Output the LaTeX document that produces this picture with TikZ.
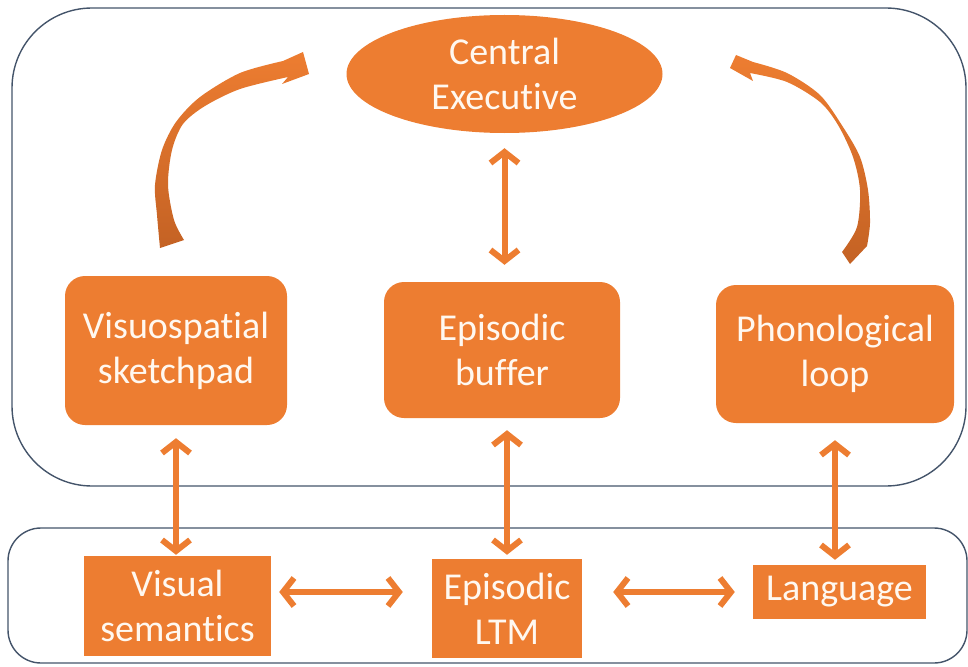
\documentclass[tikz,border=0pt]{standalone}
\usepackage{fontspec}
\setmainfont[Ligatures=NoCommon]{Carlito}
\definecolor{memorange}{RGB}{237,125,49}
\definecolor{memdark}{RGB}{196,98,36}
\definecolor{framegray}{RGB}{68,84,106}
\definecolor{labelwhite}{RGB}{255,248,240}
\usetikzlibrary{arrows.meta, shapes.geometric}
\tikzset{
  execnode/.style={ellipse, fill=memorange, text=labelwhite, align=center, inner sep=0pt, font=\fontsize{38}{45}\selectfont},
  slavebox/.style={rectangle, rounded corners=20pt, fill=memorange, text=labelwhite, align=center, inner sep=0pt, font=\fontsize{38}{45}\selectfont},
  ltmbox/.style={rectangle, fill=memorange, text=labelwhite, align=center, inner sep=0pt, font=\fontsize{38}{45}\selectfont},
  linkarrow/.style={draw=memorange, line width=6pt, >={Straight Barb[length=11pt,width=28pt]}, <->},
  framebox/.style={draw=framegray, line width=1.4pt, rounded corners=#1},
  curvearrow/.style={shade, top color=memorange, bottom color=memdark, draw=none},
}
\begin{document}
\begin{tikzpicture}[x=1pt, y=-1pt]
\useasboundingbox (0,0) rectangle (968,666);
% frames
\draw[framebox=80pt] (12,8) rectangle (966,486);
\draw[framebox=33pt] (8,528) rectangle (967,663);

% components
\node[execnode, minimum width=316pt, minimum height=118pt] (exec) at (504.5,74) {Central\\Executive};
\node[slavebox, minimum width=222pt, minimum height=149pt] (sketch) at (176,350.5) {Visuospatial\\sketchpad};
\node[slavebox, minimum width=236pt, minimum height=136pt] (buffer) at (502,350) {Episodic\\buffer};
\node[slavebox, minimum width=238pt, minimum height=138pt] (loop) at (835,354) {Phonological\\loop};
\node[ltmbox, minimum width=187pt, minimum height=100pt] (vsem) at (177.5,606) {Visual\\semantics};
\node[ltmbox, minimum width=150pt, minimum height=99pt] (ltm) at (507,608.5) {Episodic\\LTM};
\node[ltmbox, minimum width=173pt, minimum height=54pt] (lang) at (839.5,592) {Language};

% links
\draw[linkarrow, shorten <=15pt, shorten >=17pt] (exec.south) -- (exec.south |- buffer.north);
\draw[linkarrow, shorten <=13pt, shorten >=1pt] (sketch.south) -- (sketch.south |- vsem.north);
\draw[linkarrow, shorten <=12pt, shorten >=4pt] (ltm.north |- buffer.south) -- (ltm.north);
\draw[linkarrow, shorten <=17pt, shorten >=5pt] (loop.south) -- (loop.south |- lang.north);
\draw[linkarrow, shorten <=8pt, shorten >=29pt] (vsem.east |- lang.west) -- (ltm.west |- lang.west);
\draw[linkarrow, shorten <=31pt, shorten >=18pt] (ltm.east |- lang.west) -- (lang.west);

% curved arrows to the executive
\path[curvearrow] plot[smooth] coordinates {(160,248) (157,215) (155,185) (162,150) (176,122) (200,97) (240,73) (283,61)}
  -- (303,52) -- (309,74) -- (282,84) -- (288,77)
  -- plot[smooth] coordinates {(288,77) (240,89) (205,106) (183,124) (172,150) (168,185) (174,220) (184,240)} -- cycle;
\path[curvearrow] plot[smooth] coordinates {(867,246) (870,223) (868,190) (860,157) (843,127) (820,95) (787,73) (753,62)}
  -- (736,55) -- (730,68) -- (753,81) -- (750,73)
  -- plot[smooth] coordinates {(750,73) (787,82) (820,102) (838,125) (853,157) (860,190) (857,227) (842,252)} -- (850,264) -- cycle;
\end{tikzpicture}
\end{document}
